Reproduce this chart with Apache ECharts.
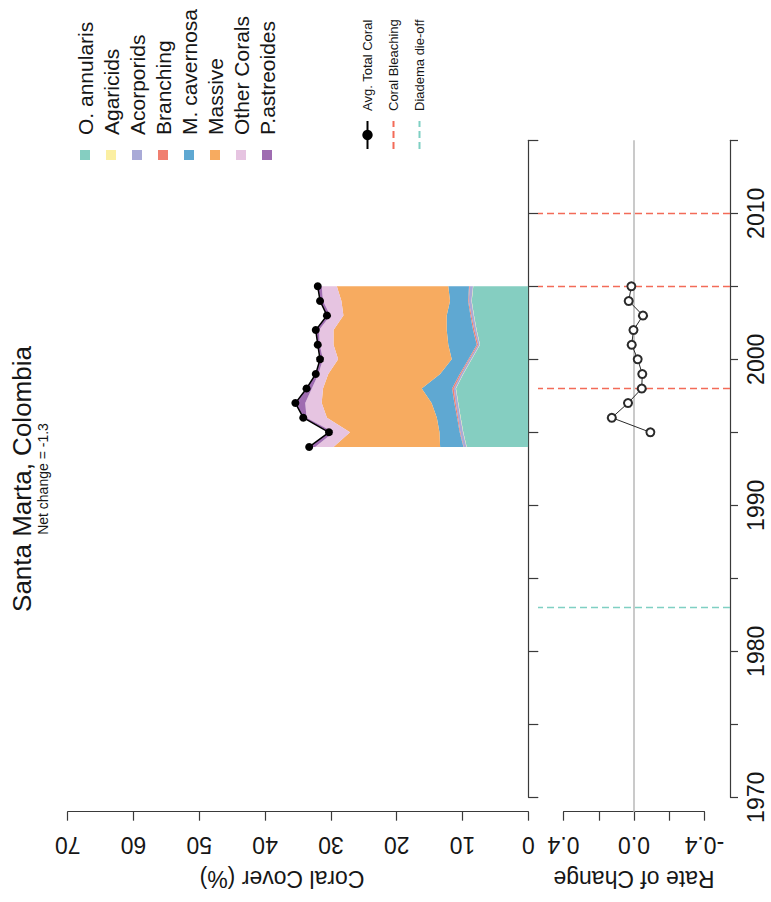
<!DOCTYPE html>
<html>
<head>
<meta charset="utf-8">
<title>Santa Marta, Colombia</title>
<script src="https://cdn.jsdelivr.net/npm/echarts@6/dist/echarts.min.js"></script>
<style>
    html, body { margin: 0; padding: 0; background: #fff; overflow: hidden; }
    /* the chart is drawn upright (902 x 771) and turned a quarter left, like the source figure */
    #chart {
        position: absolute; left: 0; top: 0;
        width: 902px; height: 771px;
        transform-origin: 0 0;
        transform: translateY(902px) rotate(-90deg);
    }
</style>
</head>
<body>
<div id="chart"></div>
<script>
// survey years
const years = [1994, 1995, 1996, 1997, 1998, 1999, 2000, 2001, 2002, 2003, 2004, 2005];

// coral cover (%) by group, stacked from the bottom
const oAnnularis  = [9.36, 9.88, 10.27, 10.64, 10.99, 9.88, 8.6, 7.34, 7.85, 8.25, 8.6, 8.36];
const agaricids   = [0.05, 0.05, 0.05, 0.05, 0.05, 0.05, 0.05, 0.05, 0.05, 0.05, 0.05, 0.05];
const acroporids  = [0.4, 0.4, 0.35, 0.35, 0.3, 0.3, 0.3, 0.25, 0.3, 0.35, 0.4, 0.5];
const branching   = [0.05, 0.1, 0.15, 0.2, 0.25, 0.2, 0.15, 0.2, 0.2, 0.15, 0.1, 0.1];
const mCavernosa  = [3.54, 3.07, 3.08, 3.46, 4.61, 2.97, 2.54, 4.32, 4.0, 3.6, 2.75, 3.15];
const massive     = [16.2, 13.6, 16.7, 16.7, 15.0, 17.0, 17.26, 17.44, 17.2, 15.7, 16.5, 16.94];
const otherCorals = [2.8, 2.5, 3.1, 2.5, 1.7, 1.5, 2.3, 2.1, 2.2, 2.0, 2.8, 2.3];
const pAstreoides = [0.9, 0.7, 0.5, 1.5, 0.8, 0.4, 0.45, 0.3, 0.5, 0.5, 0.45, 0.6];
const avgTotal    = [33.3, 30.3, 34.2, 35.4, 33.7, 32.3, 31.65, 32.0, 32.3, 30.6, 31.65, 32.0];

// yearly rate of change of total cover
const rateYears  = [1995, 1996, 1997, 1998, 1999, 2000, 2001, 2002, 2003, 2004, 2005];
const rateValues = [-0.093, 0.126, 0.034, -0.044, -0.047, -0.021, 0.013, 0.003, -0.051, 0.03, 0.015];

// disturbance events
const bleachingYears = [1998, 2005, 2010];
const diademaYears = [1983];

const netChange = '-1.3';

const FONT = 'Liberation Sans, Arial, sans-serif';
const AXIS = '#3a3a3a';
const TEXT = '#161616';

const groups = [
    {name: 'O. annularis', values: oAnnularis, color: '#85cec1'},
    {name: 'Agaricids', values: agaricids, color: '#fbefa2'},
    {name: 'Acorporids', values: acroporids, color: '#a9aad7'},
    {name: 'Branching', values: branching, color: '#f07f70'},
    {name: 'M. cavernosa', values: mCavernosa, color: '#5fa8d2'},
    {name: 'Massive', values: massive, color: '#f7ab60'},
    {name: 'Other Corals', values: otherCorals, color: '#e6c4e1'},
    {name: 'P.astreoides', values: pAstreoides, color: '#9f6cb1'}
];

const pairs = (xs, ys) => xs.map((x, i) => [x, ys[i]]);

// plain R-like axis pieces
const axisLine = {show: true, onZero: false, lineStyle: {color: AXIS, width: 1.2}};
const tick = len => ({show: true, length: len, lineStyle: {color: AXIS, width: 1.2}});
const labelFont = {fontFamily: FONT, fontSize: 23, color: TEXT};

// value first, year second, so the stack runs along the cover axis
const stackSeries = groups.map(g => ({
    name: g.name,
    type: 'line',
    stack: 'cover',
    xAxisIndex: 0,
    yAxisIndex: 0,
    data: pairs(g.values, years),
    encode: {x: 1, y: 0},
    symbol: 'none',
    silent: true,
    lineStyle: {width: 0},
    itemStyle: {color: g.color},
    areaStyle: {color: g.color, opacity: 1},
    z: 2
}));

const eventSeries = (name, color, list) => ({
    name,
    type: 'line',
    xAxisIndex: 1,
    yAxisIndex: 1,
    data: [],
    symbol: 'none',
    itemStyle: {color},
    lineStyle: {color, width: 1.3, type: [7, 4]},
    markLine: {
        silent: true,
        symbol: ['none', 'none'],
        label: {show: false},
        lineStyle: {color, width: 1.3, type: [7, 4]},
        data: list.map(y => ({xAxis: y}))
    }
});

const option = {
    animation: false,
    backgroundColor: '#fff',
    title: {
        text: 'Santa Marta, Colombia',
        subtext: 'Net change = ' + netChange,
        left: 423,
        top: 9,
        padding: 0,
        itemGap: 1,
        textAlign: 'center',
        textStyle: {fontFamily: FONT, fontSize: 26, fontWeight: 'normal', color: TEXT},
        subtextStyle: {fontFamily: FONT, fontSize: 14, color: TEXT}
    },
    legend: [{
        data: groups.map(g => g.name),
        orient: 'vertical',
        left: 742,
        top: 74.5,
        padding: 0,
        icon: 'rect',
        itemWidth: 10,
        itemHeight: 10,
        itemGap: 5,
        selectedMode: false,
        textStyle: {fontFamily: FONT, fontSize: 21, lineHeight: 20.5, color: TEXT, padding: [0, 0, 0, 10]}
    }, {
        data: [
            'Avg. Total Coral',
            {name: 'Coral Bleaching', itemStyle: {opacity: 0}},
            {name: 'Diadema die-off', itemStyle: {opacity: 0}}
        ],
        orient: 'vertical',
        left: 752,
        top: 361,
        padding: 0,
        itemWidth: 28,
        itemHeight: 13,
        itemGap: 13,
        selectedMode: false,
        textStyle: {fontFamily: FONT, fontSize: 13, lineHeight: 13, color: TEXT, padding: [0, 0, 0, 5]}
    }],
    grid: [
        // coral cover panel
        {left: 104.7, right: 140.3, top: 67.7, height: 460.6, containLabel: false, outerBoundsMode: 'none'},
        // rate of change panel
        {left: 104.7, right: 140.3, top: 538, height: 192, containLabel: false, outerBoundsMode: 'none'},
        // rate axis (drawn only over -0.4 .. 0.4)
        {left: 104.7, right: 140.3, top: 563.55, height: 140.9, containLabel: false, outerBoundsMode: 'none'},
        // zero reference line, spans the whole plot width
        {left: 90.3, right: 140.3, top: 538, height: 192, containLabel: false, outerBoundsMode: 'none'}
    ],
    xAxis: [{
        gridIndex: 0, type: 'value', min: 1970, max: 2015, interval: 5,
        axisLine, axisTick: tick(10), axisLabel: {show: false}, splitLine: {show: false}
    }, {
        gridIndex: 1, type: 'value', min: 1970, max: 2015, interval: 5,
        axisLine, axisTick: tick(8), splitLine: {show: false},
        axisLabel: Object.assign({margin: 14, formatter: v => (v % 10 === 0 ? String(v) : '')}, labelFont)
    }, {
        gridIndex: 2, type: 'value', min: 1970, max: 2015, show: false
    }, {
        gridIndex: 3, type: 'value', min: 1969, max: 2015, show: false
    }],
    yAxis: [{
        gridIndex: 0, type: 'value', min: 0, max: 70, interval: 10, offset: 14.4,
        axisLine, axisTick: tick(9), splitLine: {show: false},
        axisLabel: Object.assign({rotate: 90, margin: 22}, labelFont),
        name: 'Coral Cover (%)', nameLocation: 'middle', nameGap: 56, nameMoveOverlap: false,
        nameTextStyle: {fontFamily: FONT, fontSize: 23, color: TEXT, padding: [0, 0, 0, 32]}
    }, {
        gridIndex: 1, type: 'value', min: -0.545, max: 0.545, show: false
    }, {
        gridIndex: 2, type: 'value', min: -0.4, max: 0.4, interval: 0.2, offset: 14.4,
        axisLine, axisTick: tick(9), splitLine: {show: false},
        axisLabel: Object.assign({
            rotate: 90, margin: 22,
            formatter: v => (Math.round(v * 10) % 4 === 0 ? v.toFixed(1) : '')
        }, labelFont),
        name: 'Rate of Change', nameLocation: 'middle', nameGap: 56, nameMoveOverlap: false,
        nameTextStyle: {fontFamily: FONT, fontSize: 23, color: TEXT}
    }, {
        gridIndex: 3, type: 'value', min: -0.545, max: 0.545, show: false
    }],
    series: stackSeries.concat([{
        name: 'Avg. Total Coral',
        type: 'line',
        xAxisIndex: 0,
        yAxisIndex: 0,
        data: pairs(years, avgTotal),
        symbol: 'circle',
        symbolSize: 8,
        itemStyle: {color: '#000'},
        lineStyle: {color: '#000', width: 1.5},
        z: 5
    }, {
        name: 'zero',
        type: 'line',
        xAxisIndex: 3,
        yAxisIndex: 3,
        data: [],
        silent: true,
        markLine: {
            silent: true,
            symbol: ['none', 'none'],
            label: {show: false},
            lineStyle: {color: '#bdbdbd', type: 'solid', width: 1.6},
            data: [{yAxis: 0}]
        },
        z: 1
    },
    eventSeries('Coral Bleaching', '#f36b58', bleachingYears),
    eventSeries('Diadema die-off', '#7fd0c3', diademaYears),
    {
        name: 'Rate of Change',
        type: 'line',
        xAxisIndex: 1,
        yAxisIndex: 1,
        data: pairs(rateYears, rateValues),
        symbol: 'emptyCircle',
        symbolSize: 8,
        itemStyle: {color: '#2a2a2a', borderColor: '#2a2a2a', borderWidth: 1},
        lineStyle: {color: '#2a2a2a', width: 1},
        z: 5
    }])
};

const chart = echarts.init(document.getElementById('chart'), null, {renderer: 'svg'});
chart.setOption(option);
</script>
</body>
</html>
